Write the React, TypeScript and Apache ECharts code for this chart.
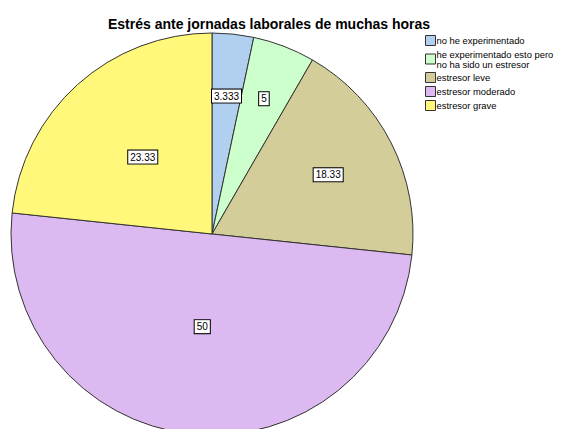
import React, { useEffect, useRef } from "react";
import * as echarts from "echarts";

const TITLE = "Estrés ante jornadas laborales de muchas horas";
const CATEGORIES = [
  "no he experimentado",
  "he experimentado esto pero\nno ha sido un estresor",
  "estresor leve",
  "estresor moderado",
  "estresor grave",
];
const VALUES = [3.333, 5, 18.33, 50, 23.33];
const COLORS = ["#b1d0ef", "#ccffcc", "#d3cd99", "#ddb9f1", "#fff87a"];
// label distance from centre as a fraction of the radius
const LABEL_RADIUS = [0.67, 0.7, 0.63, 0.45, 0.5];

const CX = 212;
const CY = 234;
const R = 201;

export default function App() {
  const ref = useRef<HTMLDivElement>(null);
  useEffect(() => {
    if (!ref.current) return;
    const chart = echarts.init(ref.current, undefined, { renderer: "svg" });
    chart.setOption({
      animation: false,
      backgroundColor: "#ffffff",
      title: {
        text: TITLE,
        left: 264,
        top: 12,
        textAlign: "center",
        textStyle: {
          fontFamily: "Liberation Sans, Arial, sans-serif",
          fontSize: 14,
          fontWeight: "bold",
          color: "#000",
        },
      },
      legend: {
        orient: "vertical",
        left: 425,
        top: 33,
        padding: [2, 0, 2, 0],
        itemWidth: 10,
        itemHeight: 10,
        itemGap: 3,
        icon: "rect",
        itemStyle: { borderColor: "#333", borderWidth: 1 },
        textStyle: {
          fontFamily: "Liberation Sans, Arial, sans-serif",
          fontSize: 9.4,
          lineHeight: 10,
          color: "#000",
          padding: [0, 0, 0, -4],
        },
        data: CATEGORIES,
      },
      series: [
        {
          type: "pie",
          center: [CX, CY],
          radius: [0, R],
          startAngle: 90,
          clockwise: true,
          avoidLabelOverlap: false,
          itemStyle: { borderColor: "#333", borderWidth: 1 },
          emphasis: { disabled: true },
          label: {
            show: true,
            position: "inside",
            formatter: (p: any) => String(p.value),
            fontFamily: "Liberation Sans, Arial, sans-serif",
            fontSize: 10,
            color: "#000",
            backgroundColor: "#fff",
            borderColor: "#000",
            borderWidth: 1,
            padding: [2, 2, 1, 2],
          },
          labelLayout: (params: any) => {
            const r = params.labelRect;
            const lx = r.x + r.width / 2;
            const ly = r.y + r.height / 2;
            const k = LABEL_RADIUS[params.dataIndex] / 0.5 - 1;
            return { dx: (lx - CX) * k, dy: (ly - CY) * k };
          },
          data: CATEGORIES.map((name, i) => ({
            name,
            value: VALUES[i],
            itemStyle: { color: COLORS[i] },
          })),
        },
      ],
    });
    return () => chart.dispose();
  }, []);
  return (
    <div
      ref={ref}
      style={{ position: "absolute", left: 0, top: 0, width: 566, height: 429 }}
    />
  );
}
